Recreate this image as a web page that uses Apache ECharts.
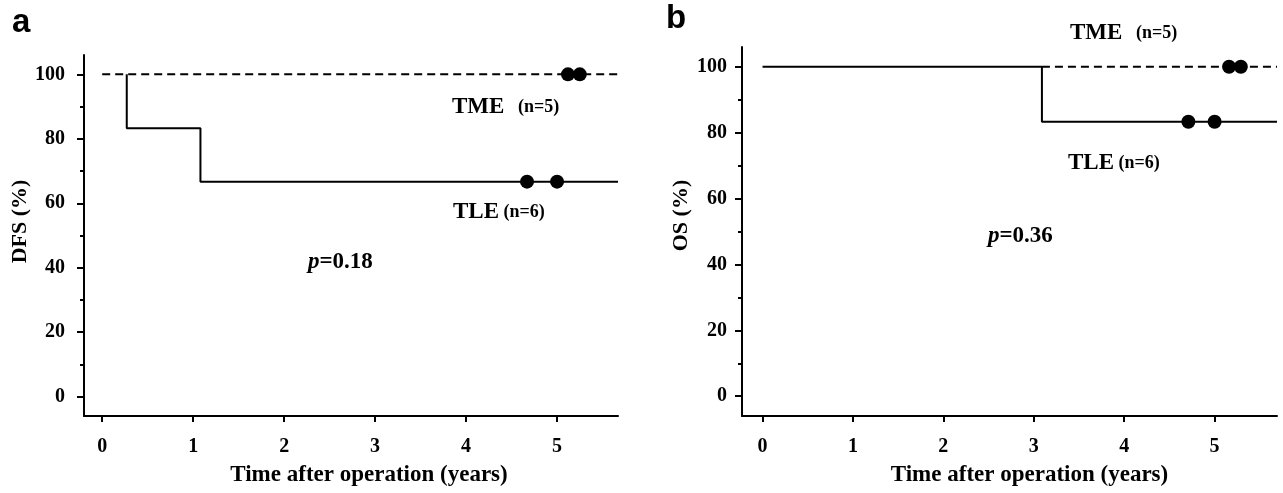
<!DOCTYPE html>
<html>
<head>
<meta charset="utf-8">
<script src="https://cdn.jsdelivr.net/npm/echarts@6/dist/echarts.min.js"></script>
<style>
html,body{margin:0;padding:0;background:#fff;}
#c{width:1283px;height:493px;}
</style>
</head>
<body>
<div id="c"></div>
<script>
// ---------- data ----------
const xTicks = [0, 1, 2, 3, 4, 5];
const yTicks = [0, 20, 40, 60, 80, 100];
const yMinorTicks = [10, 30, 50, 70, 90];

// Panel a: DFS
const dfsTmeTime = [0, 5.67];
const dfsTmeSurv = [100, 100];
const dfsTleTime = [0.27, 0.27, 1.08, 1.08, 5.67];
const dfsTleSurv = [100, 83.3, 83.3, 66.7, 66.7];
const dfsTmeCensorTime = [5.12, 5.25];
const dfsTmeCensorSurv = [100, 100];
const dfsTleCensorTime = [4.67, 5.0];
const dfsTleCensorSurv = [66.7, 66.7];

// Panel b: OS
const osTleTime = [0, 3.09, 3.09, 5.69];
const osTleSurv = [100, 100, 83.3, 83.3];
const osTmeTime = [3.09, 5.69];
const osTmeSurv = [100, 100];
const osTmeCensorTime = [5.16, 5.29];
const osTmeCensorSurv = [100, 100];
const osTleCensorTime = [4.71, 5.0];
const osTleCensorSurv = [83.3, 83.3];

const zip = (a, b) => a.map((v, i) => [v, b[i]]);

// ---------- style ----------
const SERIF = '"Liberation Serif", "Times New Roman", serif';
const SANS = '"Liberation Sans", Arial, sans-serif';
const BLACK = '#000';

function xAxisCfg(gridIndex, min, max, namePad) {
  return {
    type: 'value', gridIndex, min, max,
    name: 'Time after operation (years)',
    nameLocation: 'middle', nameGap: 48,
    nameTextStyle: { fontFamily: SERIF, fontWeight: 'bold', fontSize: 23, color: BLACK, padding: [0, 0, 0, namePad] },
    axisLine: { show: true, onZero: false, lineStyle: { color: BLACK, width: 2 } },
    axisTick: { show: true, customValues: xTicks, length: 6, lineStyle: { color: BLACK, width: 2 } },
    axisLabel: { customValues: xTicks, margin: 21, fontFamily: SERIF, fontWeight: 'bold', fontSize: 20, color: BLACK },
    splitLine: { show: false }
  };
}
function yAxisCfg(gridIndex, name, labelMargin, nameGap, namePad) {
  return {
    type: 'value', gridIndex, min: -6, max: 106, position: 'left',
    name, nameLocation: 'middle', nameGap,
    nameTextStyle: { fontFamily: SERIF, fontWeight: 'bold', fontSize: 22, color: BLACK, padding: [0, 0, 0, namePad] },
    axisLine: { show: true, onZero: false, lineStyle: { color: BLACK, width: 2 } },
    axisTick: { show: true, customValues: yTicks, length: 7, lineStyle: { color: BLACK, width: 2 } },
    axisLabel: { customValues: yTicks, margin: labelMargin, fontFamily: SERIF, fontWeight: 'bold', fontSize: 20, color: BLACK },
    splitLine: { show: false }
  };
}
function yMinorCfg(gridIndex) {
  return {
    type: 'value', gridIndex, min: -6, max: 106, position: 'left', offset: 0,
    axisLine: { show: false, onZero: false },
    axisTick: { show: true, customValues: yMinorTicks, length: 4, lineStyle: { color: BLACK, width: 2 } },
    axisLabel: { show: false },
    splitLine: { show: false }
  };
}
function lineSeries(xi, yi, data, dashed) {
  return {
    type: 'line', xAxisIndex: xi, yAxisIndex: yi, data,
    symbol: 'none', silent: true, animation: false,
    lineStyle: { color: BLACK, width: 2, type: dashed ? [8, 5] : 'solid' },
    z: 3
  };
}
function censorSeries(xi, yi, data) {
  return {
    type: 'scatter', xAxisIndex: xi, yAxisIndex: yi, data,
    symbol: 'circle', symbolSize: 14, silent: true, animation: false,
    itemStyle: { color: BLACK, opacity: 1 }, z: 4
  };
}

const labelStyle = (txt, sub) => ({
  text: '{a|' + txt + '}' + sub,
  rich: {
    a: { fontFamily: SERIF, fontWeight: 'bold', fontSize: 23, fill: BLACK },
    b: { fontFamily: SERIF, fontWeight: 'bold', fontSize: 18, fill: BLACK }
  },
  fill: BLACK
});

const chart = echarts.init(document.getElementById('c'), null, { renderer: 'canvas' });
chart.setOption({
  backgroundColor: '#fff',
  animation: false,
  grid: [
    { left: 84, top: 55, right: 665, bottom: 77 },
    { left: 742, top: 47, right: 6, bottom: 77 }
  ],
  xAxis: [xAxisCfg(0, -0.2, 5.67, 36), xAxisCfg(1, -0.227, 5.69, 40)],
  yAxis: [
    yAxisCfg(0, 'DFS (%)', 19, 52, 28),
    yMinorCfg(0),
    yAxisCfg(1, 'OS (%)', 15, 50, 32),
    yMinorCfg(1)
  ],
  series: [
    lineSeries(0, 0, zip(dfsTmeTime, dfsTmeSurv), true),
    lineSeries(0, 0, zip(dfsTleTime, dfsTleSurv), false),
    censorSeries(0, 0, zip(dfsTmeCensorTime, dfsTmeCensorSurv)),
    censorSeries(0, 0, zip(dfsTleCensorTime, dfsTleCensorSurv)),
    lineSeries(1, 2, zip(osTleTime, osTleSurv), false),
    lineSeries(1, 2, zip(osTmeTime, osTmeSurv), true),
    censorSeries(1, 2, zip(osTmeCensorTime, osTmeCensorSurv)),
    censorSeries(1, 2, zip(osTleCensorTime, osTleCensorSurv))
  ],
  graphic: [
    { type: 'text', left: 12, top: 6, style: { text: 'a', fontFamily: SANS, fontWeight: 'bold', fontSize: 33, fill: BLACK } },
    { type: 'text', left: 666, top: 2, style: { text: 'b', fontFamily: SANS, fontWeight: 'bold', fontSize: 33, fill: BLACK } },
    { type: 'text', x: 452, y: 107, style: Object.assign(labelStyle('TME', '{b|   (n=5)}'), { verticalAlign: 'middle' }) },
    { type: 'text', x: 453, y: 212, style: Object.assign(labelStyle('TLE', '{b| (n=6)}'), { verticalAlign: 'middle' }) },
    { type: 'text', x: 1070, y: 33, style: Object.assign(labelStyle('TME', '{b|   (n=5)}'), { verticalAlign: 'middle' }) },
    { type: 'text', x: 1068, y: 163, style: Object.assign(labelStyle('TLE', '{b| (n=6)}'), { verticalAlign: 'middle' }) },
    { type: 'text', x: 308, y: 262, style: {
        text: '{i|p}{a|=0.18}', verticalAlign: 'middle',
        rich: { i: { fontFamily: SERIF, fontWeight: 'bold', fontStyle: 'italic', fontSize: 23, fill: BLACK },
                a: { fontFamily: SERIF, fontWeight: 'bold', fontSize: 23, fill: BLACK } } } },
    { type: 'text', x: 988, y: 236, style: {
        text: '{i|p}{a|=0.36}', verticalAlign: 'middle',
        rich: { i: { fontFamily: SERIF, fontWeight: 'bold', fontStyle: 'italic', fontSize: 23, fill: BLACK },
                a: { fontFamily: SERIF, fontWeight: 'bold', fontSize: 23, fill: BLACK } } } }
  ]
});
</script>
</body>
</html>
